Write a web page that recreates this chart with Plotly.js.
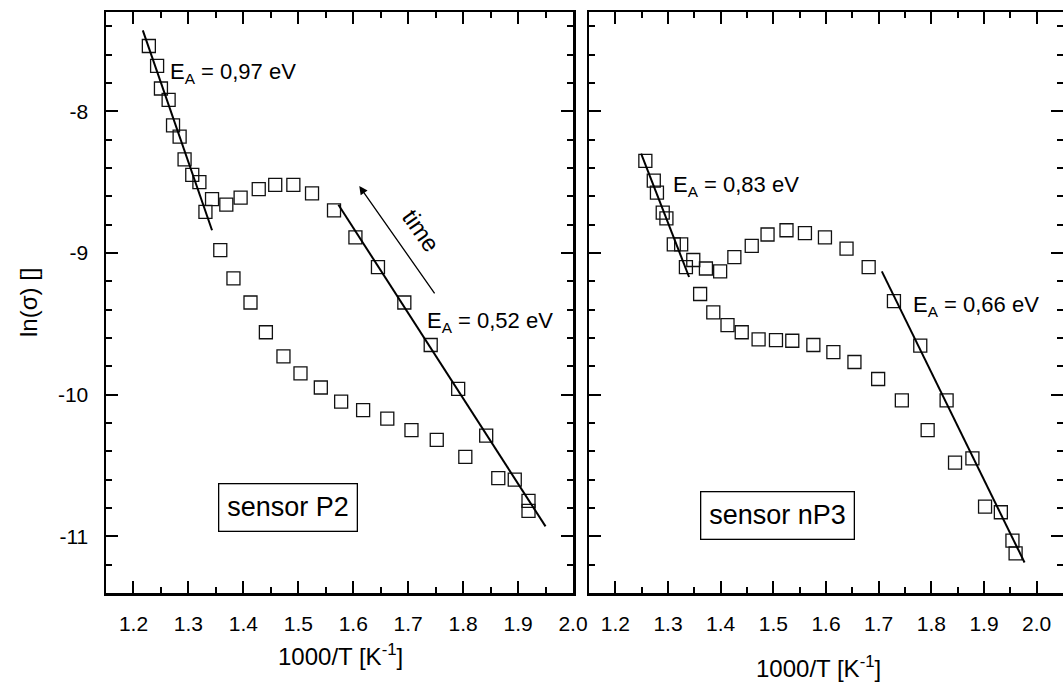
<!DOCTYPE html>
<html>
<head>
<meta charset="utf-8">
<script src="https://cdn.plot.ly/plotly-3.0.1.min.js"></script>
<style>html,body{margin:0;padding:0;background:#fff;}</style>
</head>
<body>
<div id="chart" style="width:1063px;height:686px;"></div>
<script>
// ---- data: sensor P2 ----
const p2_x = [1.228,1.243,1.250,1.264,1.272,1.284,1.293,1.307,1.320,1.331,1.343,1.369,1.395,1.428,1.458,1.491,1.525,1.565,1.604,1.645,1.693,1.741,1.791,1.842,1.894,1.919,1.919,
              1.864,1.804,1.752,1.706,1.662,1.618,1.578,1.541,1.504,1.473,1.441,1.413,1.382,1.358];
const p2_y = [-7.54,-7.68,-7.84,-7.92,-8.10,-8.18,-8.34,-8.45,-8.50,-8.71,-8.62,-8.66,-8.61,-8.55,-8.52,-8.52,-8.58,-8.70,-8.89,-9.10,-9.35,-9.65,-9.96,-10.29,-10.60,-10.75,-10.82,
              -10.59,-10.44,-10.32,-10.25,-10.17,-10.11,-10.05,-9.95,-9.85,-9.73,-9.56,-9.35,-9.18,-8.98];
const p2_fit1_x = [1.217, 1.343];
const p2_fit1_y = [-7.43, -8.84];
const p2_fit2_x = [1.573, 1.950];
const p2_fit2_y = [-8.66, -10.93];

// ---- data: sensor nP3 ----
const np3_x = [1.257,1.273,1.279,1.290,1.297,1.311,1.325,1.334,1.348,1.372,1.399,1.426,1.459,1.489,1.525,1.560,1.598,1.639,1.681,1.729,1.779,1.829,1.878,1.932,1.954,1.960,
               1.902,1.845,1.793,1.744,1.699,1.654,1.614,1.576,1.536,1.505,1.472,1.440,1.413,1.386,1.361];
const np3_y = [-8.35,-8.49,-8.575,-8.716,-8.756,-8.94,-8.94,-9.10,-9.05,-9.11,-9.13,-9.03,-8.95,-8.87,-8.84,-8.86,-8.89,-8.97,-9.10,-9.34,-9.655,-10.04,-10.45,-10.83,-11.03,-11.12,
               -10.79,-10.48,-10.25,-10.04,-9.89,-9.77,-9.70,-9.65,-9.62,-9.615,-9.61,-9.56,-9.51,-9.42,-9.29];
const np3_fit1_x = [1.249, 1.340];
const np3_fit1_y = [-8.30, -9.17];
const np3_fit2_x = [1.706, 1.977];
const np3_fit2_y = [-9.13, -11.185];

// ---- tick labels ----
const yTickVals = [-8, -9, -10, -11];
const yTickText = ["-8", "-9", "-10", "-11"];
const xTickVals = [1.2, 1.3, 1.4, 1.5, 1.6, 1.7, 1.8, 1.9, 2.0];
const xTickText = ["1.2", "1.3", "1.4", "1.5", "1.6", "1.7", "1.8", "1.9", "2.0"];

const FONT = "Liberation Sans, Arial, sans-serif";
const INK = "#000";

const markerStyle = {symbol: "square-open", size: 13, color: "#111", line: {width: 1.3, color: "#111"}};
const fitStyle = {color: INK, width: 2};

const traces = [
  {x: p2_x, y: p2_y, mode: "markers", marker: markerStyle, xaxis: "x", yaxis: "y", hoverinfo: "skip"},
  {x: p2_fit1_x, y: p2_fit1_y, mode: "lines", line: fitStyle, xaxis: "x", yaxis: "y"},
  {x: p2_fit2_x, y: p2_fit2_y, mode: "lines", line: fitStyle, xaxis: "x", yaxis: "y"},
  {x: np3_x, y: np3_y, mode: "markers", marker: markerStyle, xaxis: "x2", yaxis: "y2", hoverinfo: "skip"},
  {x: np3_fit1_x, y: np3_fit1_y, mode: "lines", line: fitStyle, xaxis: "x2", yaxis: "y2"},
  {x: np3_fit2_x, y: np3_fit2_y, mode: "lines", line: fitStyle, xaxis: "x2", yaxis: "y2"}
];

function xAxis(domain, range, anchor) {
  return {
    domain: domain, range: range, anchor: anchor,
    tickmode: "array", tickvals: xTickVals, ticktext: xTickText,
    ticks: "inside", ticklen: 12, tickwidth: 2, tickcolor: INK,
    minor: {tickmode: "linear", tick0: 1.15, dtick: 0.05, ticks: "inside", ticklen: 6, tickwidth: 2, tickcolor: INK},
    showline: true, linewidth: 2.5, linecolor: INK, mirror: "ticks",
    showgrid: false, zeroline: false,
    tickfont: {family: FONT, size: 21, color: INK},
    ticklabelstandoff: 10
  };
}
function yAxis(anchor, showLabels) {
  return {
    domain: [93/686, 674/686], range: [-11.4, -7.3], anchor: anchor,
    tickmode: "array", tickvals: yTickVals, ticktext: yTickText,
    showticklabels: showLabels,
    ticks: "inside", ticklen: 12, tickwidth: 2, tickcolor: INK,
    minor: {tickmode: "linear", tick0: -12, dtick: 0.2, ticks: "inside", ticklen: 6, tickwidth: 2, tickcolor: INK},
    showline: true, linewidth: 2.5, linecolor: INK, mirror: "ticks",
    showgrid: false, zeroline: false,
    tickfont: {family: FONT, size: 21, color: INK},
    ticklabelstandoff: 11
  };
}

const eaFont = {family: FONT, size: 22, color: INK};
const boxFont = {family: FONT, size: 27, color: INK};
const titleFont = {family: FONT, size: 24, color: INK};

const annotations = [
  {xref: "x", yref: "y", x: 1.262, y: -7.73, text: "E<sub>A</sub> = 0,97 eV", showarrow: false, xanchor: "left", yanchor: "middle", font: eaFont},
  {xref: "x", yref: "y", x: 1.731, y: -9.49, text: "E<sub>A</sub> = 0,52 eV", showarrow: false, xanchor: "left", yanchor: "middle", font: eaFont},
  {xref: "x", yref: "y", x: 1.723, y: -8.845, text: "time", showarrow: false, textangle: 55, font: {family: FONT, size: 24, color: INK}},
  {xref: "x", yref: "y", axref: "x", ayref: "y", x: 1.611, y: -8.528, ax: 1.750, ay: -9.296, text: "", showarrow: true,
   arrowhead: 2, arrowsize: 1.3, arrowwidth: 1.3, arrowcolor: INK},
  {xref: "x", yref: "y", x: 1.481, y: -10.80, text: "sensor P2", showarrow: false, font: boxFont,
   bordercolor: INK, borderwidth: 1.3, borderpad: 8, bgcolor: "#fff"},
  {xref: "x2", yref: "y2", x: 1.305, y: -8.53, text: "E<sub>A</sub> = 0,83 eV", showarrow: false, xanchor: "left", yanchor: "middle", font: eaFont},
  {xref: "x2", yref: "y2", x: 1.762, y: -9.375, text: "E<sub>A</sub> = 0,66 eV", showarrow: false, xanchor: "left", yanchor: "middle", font: eaFont},
  {xref: "x2", yref: "y2", x: 1.507, y: -10.85, text: "sensor nP3", showarrow: false, font: boxFont,
   bordercolor: INK, borderwidth: 1.3, borderpad: 8, bgcolor: "#fff"},
  // axis titles
  {xref: "paper", yref: "paper", x: 340/1063, y: 1 - 655/686, text: "1000/T [K<sup>-1</sup>]", showarrow: false, xanchor: "center", yanchor: "middle", font: titleFont},
  {xref: "paper", yref: "paper", x: 818/1063, y: 1 - 667/686, text: "1000/T [K<sup>-1</sup>]", showarrow: false, xanchor: "center", yanchor: "middle", font: titleFont},
  {xref: "paper", yref: "paper", x: 28/1063, y: 1 - 303/686, text: "ln(σ) []", showarrow: false, textangle: -90, xanchor: "center", yanchor: "middle", font: titleFont}
];

const layout = {
  width: 1063, height: 686,
  margin: {l: 0, r: 0, t: 0, b: 0},
  paper_bgcolor: "#fff", plot_bgcolor: "#fff",
  showlegend: false,
  xaxis: xAxis([106/1063, 573/1063], [1.15, 2.0], "y"),
  yaxis: yAxis("x", true),
  xaxis2: xAxis([589/1063, 1], [1.15, 2.05], "y2"),
  yaxis2: yAxis("x2", false),
  annotations: annotations
};

Plotly.newPlot("chart", traces, layout, {staticPlot: true, displayModeBar: false});
</script>
</body>
</html>
